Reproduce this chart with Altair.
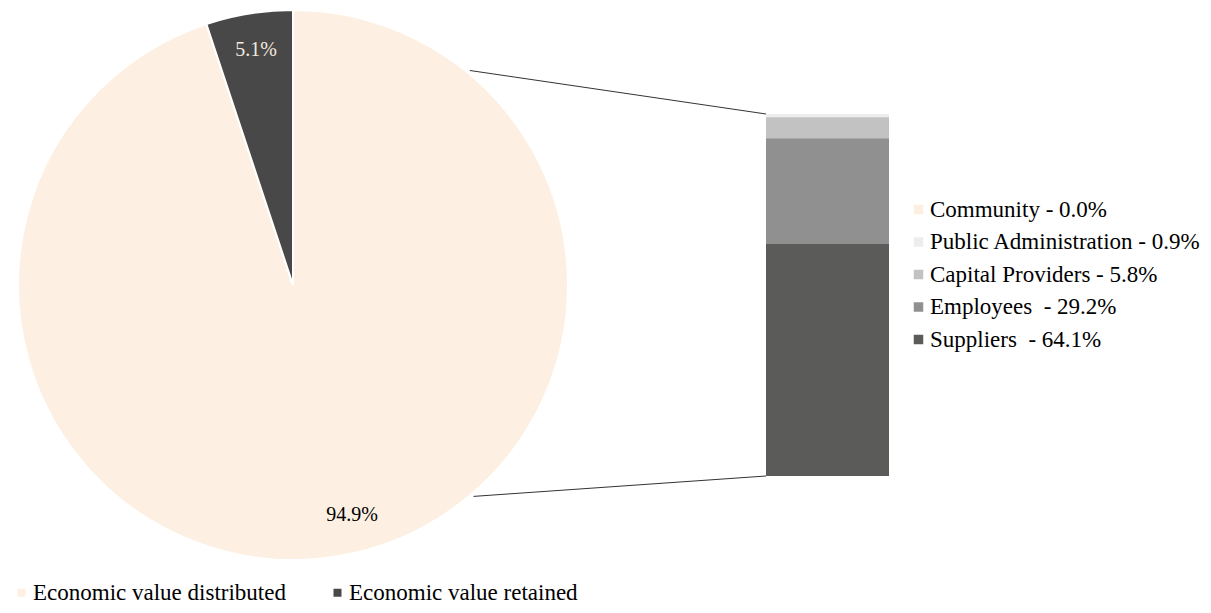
import math
import altair as alt
import pandas as pd

# ---- data ----
pie_labels = ["Economic value distributed", "Economic value retained"]
pie_values = [94.9, 5.1]
pie_colors = ["#FDF0E3", "#484848"]

bar_categories = ["Community", "Public Administration", "Capital Providers", "Employees", "Suppliers"]
bar_values = [0.0, 0.9, 5.8, 29.2, 64.1]
bar_legend_labels = ["Community - 0.0%", "Public Administration - 0.9%", "Capital Providers - 5.8%",
                     "Employees\u00a0 - 29.2%", "Suppliers\u00a0 - 64.1%"]
bar_colors = ["#FDF0E3", "#EDEDED", "#C2C2C2", "#909090", "#5B5B5A"]

FONT = "Liberation Serif"

# ---- layout (pixels, plot coordinates) ----
W, H = 1195, 597
CX, CY, R = 285, 277, 275
BAR_X0, BAR_X1 = 758, 881
BAR_TOP, BAR_BOT = 106, 468
total = sum(bar_values)
pie_total = sum(pie_values)
per = (BAR_BOT - BAR_TOP) / total
y_dom = [-(H - BAR_BOT) / per, total + BAR_TOP / per]

pie_df = pd.DataFrame({
    "label": pie_labels,
    "value": pie_values,
    "order": list(range(len(pie_values))),
    "text": [f"{v:.1f}%" for v in pie_values],
})
bar_df = pd.DataFrame({
    "category": bar_legend_labels,
    "value": bar_values,
    "order": list(range(len(bar_values)))[::-1],
})

theta_scale = alt.Scale(domain=[0, pie_total])

pie_color = alt.Color(
    "label:N",
    scale=alt.Scale(domain=pie_labels, range=pie_colors),
    legend=alt.Legend(orient="none", direction="horizontal", legendX=2, legendY=573,
                      title=None, symbolType="square", symbolSize=64, symbolStrokeWidth=0,
                      labelFont=FONT, labelFontSize=23, labelColor="#000000",
                      columnPadding=40, labelOffset=0, padding=0, labelLimit=400),
)

base_pie = alt.Chart(pie_df).transform_stack(
    stack="value", groupby=[], as_=["t0", "t1"], sort=[alt.SortField("order")]
).transform_calculate(mid="(datum.t0 + datum.t1) / 2")

arc = base_pie.mark_arc(outerRadius=R, stroke="white", strokeWidth=2).encode(
    theta=alt.Theta("t0:Q", scale=theta_scale),
    theta2="t1:Q",
    color=pie_color,
    x=alt.value(CX), y=alt.value(CY),
)
txt_ret = base_pie.transform_filter(alt.datum.order == 1).mark_text(
    font=FONT, fontSize=20, color="#F3E9DE", dx=1, baseline="middle", align="center"
).encode(
    theta=alt.Theta("mid:Q", scale=theta_scale),
    text="text:N", radius=alt.value(238),
    x=alt.value(CX), y=alt.value(CY),
)
txt_dist = base_pie.transform_filter(alt.datum.order == 0).mark_text(
    font=FONT, fontSize=20, color="#000000", dx=21, dy=-5, baseline="middle", align="center"
).encode(
    theta=alt.Theta("mid:Q", scale=theta_scale),
    text="text:N", radius=alt.value(238),
    x=alt.value(CX), y=alt.value(CY),
)

yscale = alt.Scale(domain=y_dom, nice=False, zero=False)
bar = alt.Chart(bar_df).transform_stack(
    stack="value", groupby=[], as_=["y0", "y1"], sort=[alt.SortField("order")]
).mark_rect().encode(
    x=alt.value(BAR_X0), x2=alt.value(BAR_X1),
    y=alt.Y("y0:Q", scale=yscale, axis=None),
    y2="y1:Q",
    color=alt.Color(
        "category:N",
        scale=alt.Scale(domain=bar_legend_labels, range=bar_colors),
        legend=alt.Legend(orient="none", direction="vertical", legendX=899, legendY=190,
                          title=None, symbolType="square", symbolSize=90, symbolStrokeWidth=0,
                          labelFont=FONT, labelFontSize=23, labelColor="#000000",
                          rowPadding=8.5, labelOffset=0, padding=0, labelLimit=400),
    ),
)

def edge(deg, r):
    a = math.radians(deg)
    return CX + r * math.sin(a), CY - r * math.cos(a)

tx, ty = edge(39.5, R + 3)
bx, by = edge(139.5, R + 3)
rule_top = alt.Chart(pd.DataFrame({"v": [total]})).mark_rule(color="#333333", strokeWidth=1).encode(
    y=alt.Y("v:Q", scale=yscale, axis=None), y2=alt.value(ty),
    x=alt.value(BAR_X0), x2=alt.value(tx),
)
rule_bot = alt.Chart(pd.DataFrame({"v": [0.0]})).mark_rule(color="#333333", strokeWidth=1).encode(
    y=alt.Y("v:Q", scale=yscale, axis=None), y2=alt.value(by),
    x=alt.value(BAR_X0), x2=alt.value(bx),
)

chart = alt.layer(arc, txt_ret, txt_dist, rule_top, rule_bot, bar).resolve_scale(
    color="independent"
).properties(
    width=W, height=H, padding=0, autosize=alt.AutoSizeParams(type="none"),
).configure_view(stroke=None)

chart.save("out.html", embed_options={"renderer": "svg", "actions": False})
